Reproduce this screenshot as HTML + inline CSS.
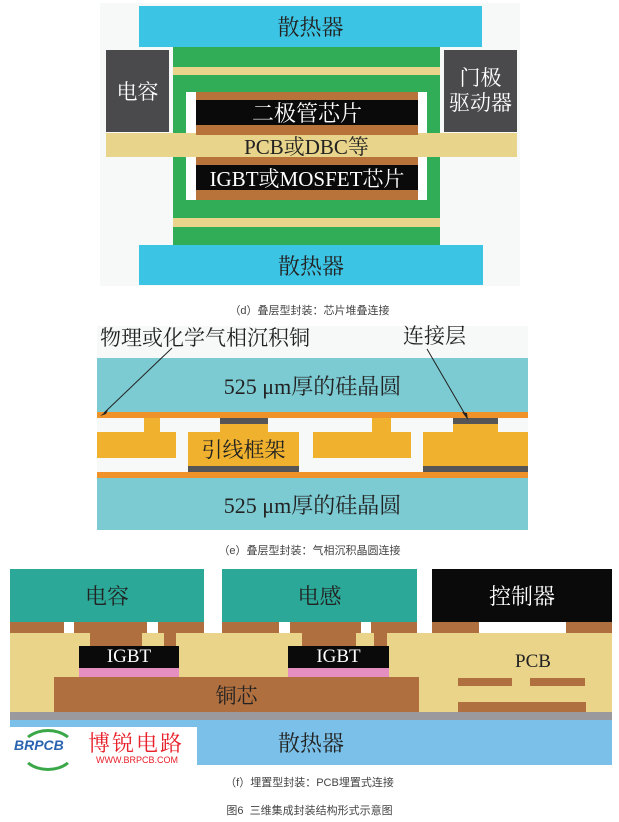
<!DOCTYPE html>
<html><head><meta charset="utf-8"><style>
body{margin:0;background:#fff;}
#c{position:relative;width:619px;height:822px;overflow:hidden;font-family:"Liberation Serif","Noto Serif CJK SC",serif;}
#c div{position:absolute;}
.t{display:flex;align-items:center;justify-content:center;white-space:nowrap;}
.cap{font-family:"Liberation Sans","Noto Sans CJK SC",sans-serif;font-size:11px;color:#444;left:0;width:619px;text-align:center;}
</style></head><body><div id="c">
<!-- (d) -->
<div style="left:100px;top:3px;width:420px;height:283px;background:#f7f8f8"></div>
<div class="t" style="left:139px;top:6px;width:343px;height:41px;background:#3cc4e4;font-size:22px;color:#222">散热器</div>
<div style="left:173px;top:47px;width:267px;height:198px;background:#31ad57"></div>
<div style="left:173px;top:67px;width:267px;height:8px;background:#e8d48a"></div>
<div style="left:173px;top:218px;width:267px;height:9px;background:#e8d48a"></div>
<div style="left:186px;top:92px;width:241px;height:108px;background:#fff"></div>
<div style="left:106px;top:133px;width:411px;height:24px;background:#e8d48a"></div>
<div style="left:186px;top:133px;width:241px;height:24px;background:#e8d48a"></div>
<div class="t" style="left:106px;top:50px;width:63px;height:82px;background:#4a4a4c;color:#fff;font-size:21px">电容</div>
<div class="t" style="left:444px;top:50px;width:73px;height:82px;background:#4a4a4c;color:#fff;font-size:21px;line-height:25px;white-space:normal;text-align:center">门极<br>驱动器</div>
<div style="left:196px;top:92px;width:222px;height:8px;background:#b8733a"></div>
<div class="t" style="left:196px;top:100px;width:222px;height:25px;background:#0a0a0a;color:#fff;font-size:22px">二极管芯片</div>
<div style="left:196px;top:125px;width:222px;height:10px;background:#b8733a"></div>
<div class="t" style="left:186px;top:134px;width:241px;height:23px;font-size:21px;color:#222">PCB或DBC等</div>
<div style="left:196px;top:157px;width:222px;height:8px;background:#b8733a"></div>
<div class="t" style="left:196px;top:165px;width:222px;height:25px;background:#0a0a0a;color:#fff;font-size:21px">IGBT或MOSFET芯片</div>
<div style="left:196px;top:190px;width:222px;height:10px;background:#b8733a"></div>
<div class="t" style="left:139px;top:245px;width:344px;height:40px;background:#3cc4e4;font-size:22px;color:#222">散热器</div>
<div class="cap" style="top:302px">（d）叠层型封装：芯片堆叠连接</div>
<!-- (e) -->
<div style="left:97px;top:326px;width:431px;height:204px;background:#f7f8f8"></div>
<div style="left:100px;top:322px;font-size:21px;color:#222;white-space:nowrap">物理或化学气相沉积铜</div>
<div style="left:403px;top:320px;font-size:21px;color:#222;white-space:nowrap">连接层</div>
<div class="t" style="left:97px;top:358px;width:431px;height:54px;background:#7ccad2;font-size:22px;color:#222">525 μm厚的硅晶圆</div>
<div style="left:97px;top:412px;width:431px;height:6px;background:#f0922a"></div>
<div style="left:144px;top:418px;width:16px;height:16px;background:#f0b22e"></div>
<div style="left:97px;top:432px;width:79px;height:26px;background:#f0b22e"></div>
<div style="left:220px;top:418px;width:48px;height:6px;background:#555"></div>
<div style="left:220px;top:424px;width:48px;height:10px;background:#f0b22e"></div>
<div class="t" style="left:188px;top:432px;width:111px;height:34px;background:#f0b22e;font-size:21px;color:#222">引线框架</div>
<div style="left:188px;top:466px;width:111px;height:6px;background:#555"></div>
<div style="left:372px;top:418px;width:19px;height:16px;background:#f0b22e"></div>
<div style="left:313px;top:432px;width:98px;height:26px;background:#f0b22e"></div>
<div style="left:453px;top:418px;width:45px;height:6px;background:#555"></div>
<div style="left:453px;top:424px;width:45px;height:10px;background:#f0b22e"></div>
<div style="left:423px;top:432px;width:105px;height:34px;background:#f0b22e"></div>
<div style="left:423px;top:466px;width:105px;height:6px;background:#555"></div>
<div style="left:97px;top:472px;width:431px;height:6px;background:#f0922a"></div>
<div class="t" style="left:97px;top:478px;width:431px;height:52px;background:#7ccad2;font-size:22px;color:#222">525 μm厚的硅晶圆</div>
<svg style="position:absolute;left:0;top:0" width="619" height="822"><g stroke="#222" stroke-width="1"><line x1="172" y1="348" x2="104" y2="413"/><line x1="427" y1="349" x2="466" y2="416"/></g><polygon points="100,416 108,410 106,414" fill="#222"/><polygon points="468,420 462,412 467,413" fill="#222"/></svg>
<div class="cap" style="top:542px">（e）叠层型封装：气相沉积晶圆连接</div>
<!-- (f) -->
<div style="left:10px;top:633px;width:602px;height:79px;background:#ead48a"></div>
<div style="left:10px;top:622px;width:602px;height:11px;background:#b06f3e"></div>
<div style="left:64px;top:622px;width:10px;height:11px;background:#fff"></div>
<div style="left:147px;top:622px;width:11px;height:11px;background:#fff"></div>
<div style="left:204px;top:565px;width:18px;height:68px;background:#fff"></div>
<div style="left:279px;top:622px;width:11px;height:11px;background:#fff"></div>
<div style="left:361px;top:622px;width:10px;height:11px;background:#fff"></div>
<div style="left:417px;top:565px;width:15px;height:68px;background:#fff"></div>
<div style="left:479px;top:622px;width:87px;height:11px;background:#fff"></div>
<div class="t" style="left:10px;top:569px;width:194px;height:53px;background:#2ba897;font-size:22px;color:#222">电容</div>
<div class="t" style="left:222px;top:569px;width:195px;height:53px;background:#2ba897;font-size:22px;color:#222">电感</div>
<div class="t" style="left:432px;top:569px;width:180px;height:53px;background:#0a0a0a;font-size:22px;color:#fff">控制器</div>
<div style="left:90px;top:633px;width:52px;height:14px;background:#b06f3e"></div>
<div style="left:164px;top:633px;width:12px;height:14px;background:#b06f3e"></div>
<div style="left:302px;top:633px;width:54px;height:14px;background:#b06f3e"></div>
<div style="left:374px;top:633px;width:13px;height:14px;background:#b06f3e"></div>
<div class="t" style="left:79px;top:646px;width:100px;height:22px;background:#0a0a0a;font-size:19px;color:#fff">IGBT</div>
<div style="left:79px;top:668px;width:100px;height:9px;background:#e58ec0"></div>
<div class="t" style="left:288px;top:646px;width:101px;height:22px;background:#0a0a0a;font-size:19px;color:#fff">IGBT</div>
<div style="left:288px;top:668px;width:101px;height:9px;background:#e58ec0"></div>
<div class="t" style="left:54px;top:677px;width:365px;height:35px;background:#b06f3e;font-size:21px;color:#222">铜芯</div>
<div style="left:515px;top:651px;font-size:19px;color:#222">PCB</div>
<div style="left:458px;top:678px;width:54px;height:8px;background:#b06f3e"></div>
<div style="left:530px;top:678px;width:55px;height:8px;background:#b06f3e"></div>
<div style="left:458px;top:702px;width:128px;height:10px;background:#b06f3e"></div>
<div style="left:10px;top:712px;width:602px;height:8px;background:#9a9a9e"></div>
<div class="t" style="left:10px;top:720px;width:602px;height:45px;background:#7ac0e8;font-size:22px;color:#222;padding-left:0">散热器</div>
<div style="left:10px;top:727px;width:187px;height:43px;background:#fff"></div>
<div style="left:14px;top:737px;font-family:'Liberation Sans',sans-serif;font-weight:bold;font-style:italic;font-size:14px;color:#2a64b0">BRPCB</div>
<div style="left:20px;top:729px;width:50px;height:36px;border:3px solid #3aa848;border-radius:50%;border-right-color:transparent;border-left-color:transparent"></div>
<div style="left:88px;top:727px;font-size:22px;color:#e8202a;font-family:'Noto Serif CJK SC',serif;letter-spacing:2px">博锐电路</div>
<div style="left:96px;top:755px;font-family:'Liberation Sans',sans-serif;font-size:9px;color:#e8202a">WWW.BRPCB.COM</div>
<div class="cap" style="top:774px">（f）埋置型封装：PCB埋置式连接</div>
<div class="cap" style="top:802px">图6&nbsp; 三维集成封装结构形式示意图</div>
</div></body></html>
